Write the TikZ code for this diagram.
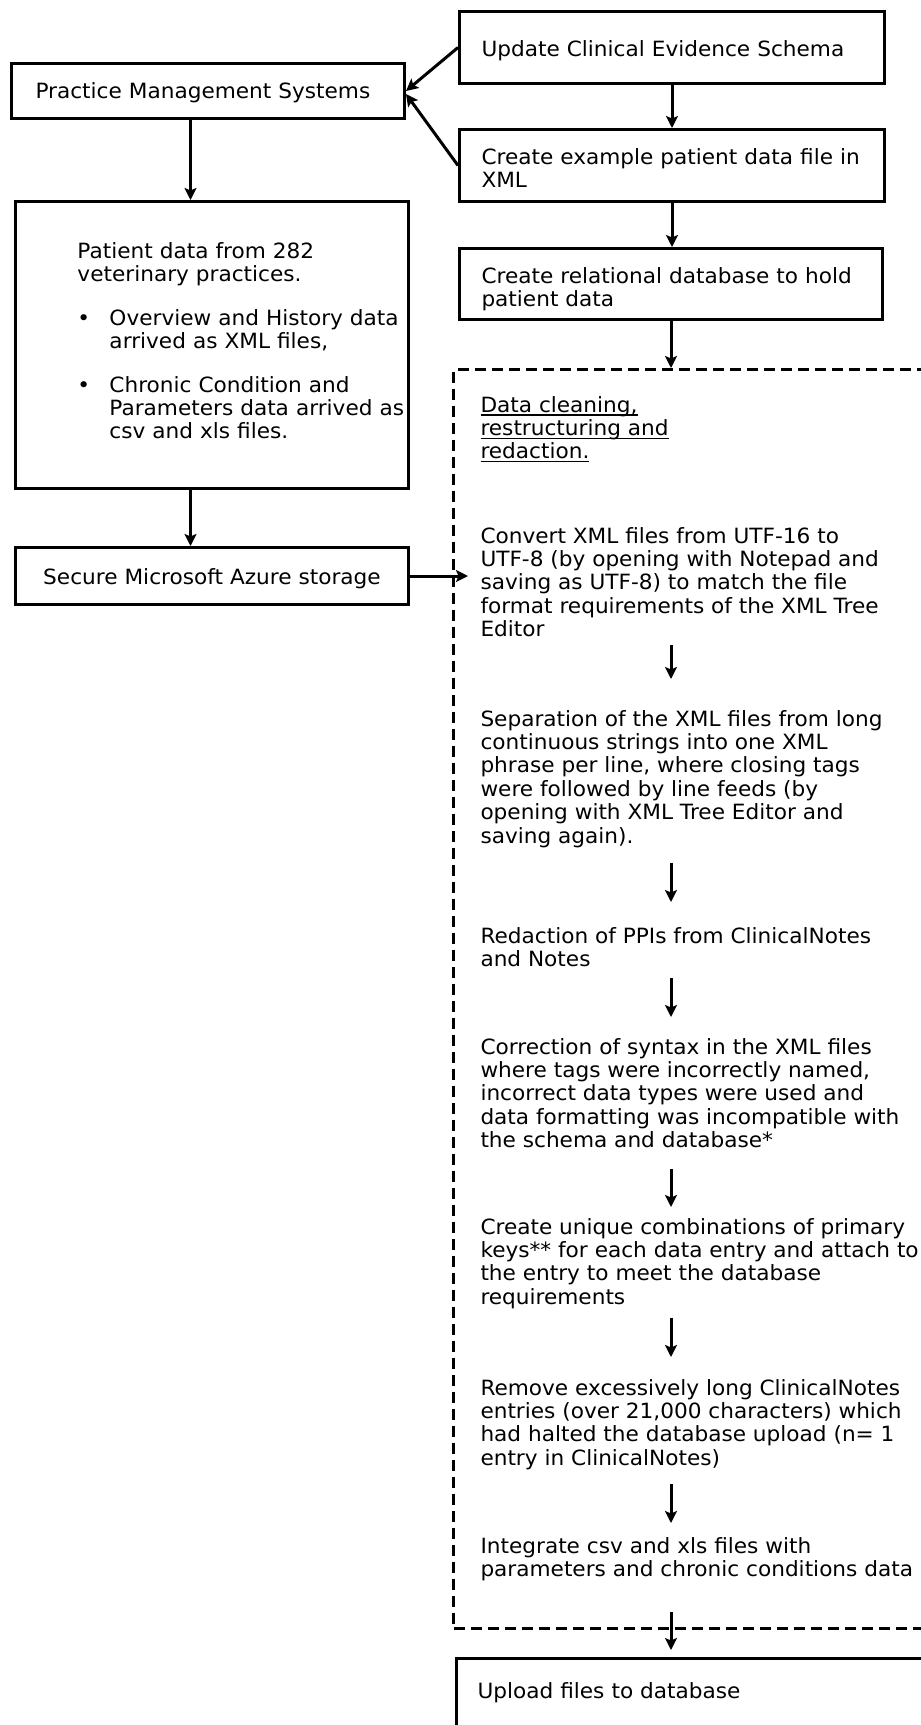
\documentclass[tikz,border=0pt]{standalone}
\usepackage{fontspec}
\setmainfont[FakeStretch=1.03]{DejaVu Sans}
\usepackage{tikz}
\usetikzlibrary{arrows.meta}

\newcommand\ulined[1]{\setbox0\hbox{#1}\rlap{\rule[-3.5pt]{\wd0}{1.4pt}}\box0}

\begin{document}
\begin{tikzpicture}[->,>={Stealth[length=12pt, width=12pt, inset=2.5pt]}, line width=3pt, x=1pt, y=-1pt,
  font=\fontsize{21}{23.4}\selectfont,
  box/.style={draw, line width=3pt, anchor=north west, align=left, inner ysep=0pt},
  pad/.style 2 args={execute at begin node={\rule{0pt}{#1pt}}, execute at end node={\rule[-#2pt]{0pt}{#2pt}}},
  stage/.style={anchor=north west, align=left, inner sep=0pt, execute at begin node=\strut, execute at end node=\strut}]
\useasboundingbox (0,0) rectangle (921,1725);

% left column
\node[box, pad={35}{20}, text width=345pt, inner xsep=24pt] (0) at (10,62) {Practice Management Systems};
\node[box, pad={57}{50}, text width=393pt, inner xsep=0pt] (4) at (14,200) {\hspace*{62pt}Patient data from 282\\\hspace*{62pt}veterinary practices.\\[20pt]
  \hspace*{62pt}\makebox[32pt][l]{\textbullet}\mbox{Overview and History data}\\\hspace*{94pt}arrived as XML files,\\[20pt]
  \hspace*{62pt}\makebox[32pt][l]{\textbullet}Chronic Condition and\\\hspace*{94pt}\mbox{Parameters data arrived as}\\\hspace*{94pt}csv and xls files.};
\node[box, align=center, pad={37}{20}, text width=345pt, inner xsep=24pt] (5) at (14,546) {Secure Microsoft Azure storage};

% right column
\node[box, pad={45}{27}, text width=381pt, inner xsep=22pt] (1) at (458,10) {Update Clinical Evidence Schema};
\node[box, pad={35}{13.6}, text width=381pt, inner xsep=22pt] (2) at (458,128) {\mbox{Create example patient data file in}\\XML};
\node[box, pad={35}{12.6}, text width=379pt, inner xsep=22pt] (3) at (458,247) {\mbox{Create relational database to hold}\\patient data};

% cleaning steps
\node[draw, line width=3pt, dash pattern=on 11pt off 6pt, anchor=north west, inner sep=0pt, minimum width=500pt, minimum height=1259pt] (6) at (452,368) {};
\node[stage] (h) at (479,394.6) {\ulined{Data cleaning,}\\\ulined{restructuring and}\\\ulined{redaction.}};
\node[stage] (s1) at (479,525.6) {Convert XML files from UTF-16 to\\UTF-8 (by opening with Notepad and\\saving as UTF-8) to match the file\\format requirements of the XML Tree\\Editor};
\node[stage] (s2) at (479,708.6) {Separation of the XML files from long\\continuous strings into one XML\\phrase per line, where closing tags\\were followed by line feeds (by\\opening with XML Tree Editor and\\saving again).};
\node[stage] (s3) at (479,925.6) {Redaction of PPIs from ClinicalNotes\\and Notes};
\node[stage] (s4) at (479,1036.6) {Correction of syntax in the XML files\\where tags were incorrectly named,\\incorrect data types were used and\\data formatting was incompatible with\\the schema and database*};
\node[stage] (s5) at (479,1216.6) {Create unique combinations of primary\\keys** for each data entry and attach to\\the entry to meet the database\\requirements};
\node[stage] (s6) at (479,1377.6) {Remove excessively long ClinicalNotes\\entries (over 21,000 characters) which\\had halted the database upload (n= 1\\entry in ClinicalNotes)};
\node[stage] (s7) at (479,1535.6) {Integrate csv and xls files with\\parameters and chronic conditions data};
\node[box, pad={40}{60}, text width=458pt, inner xsep=21pt] (7) at (455,1657) {Upload files to database};

\path (1.west) edge (0.east);
\path (2.west) edge ([yshift=-3pt]0.east);
\path (1) edge (2);
\path (2.south) edge (2.south |- 3.north);
\path (3.south) edge (3.south |- 6.north);
\path ([xshift=-17.5pt]0.south) edge ([xshift=-17.5pt]0.south |- 4.north);
\path ([xshift=-21.5pt]4.south) edge ([xshift=-21.5pt]4.south |- 5.north);
\path (5.east) edge [shorten >=11pt] (5.east -| s1.west);
\path (s1.south -| 3.south) edge [shorten >=29.6pt] (s2.north -| 3.south);
\path (s2.south -| 3.south) edge [shorten <=11pt, shorten >=23.6pt] (s3.north -| 3.south);
\path (s3.south -| 3.south) edge [shorten <=3pt, shorten >=19.6pt] (s4.north -| 3.south);
\path (s4.south -| 3.south) edge [shorten <=13pt, shorten >=9.6pt] (s5.north -| 3.south);
\path (s5.south -| 3.south) edge [shorten <=5pt, shorten >=20.6pt] (s6.north -| 3.south);
\path (s6.south -| 3.south) edge [shorten <=10pt, shorten >=12.6pt] (s7.north -| 3.south);
\path (s7.south -| 3.south) edge [shorten <=27pt, shorten >=7pt] (7.north -| 3.south);
\end{tikzpicture}
\end{document}
